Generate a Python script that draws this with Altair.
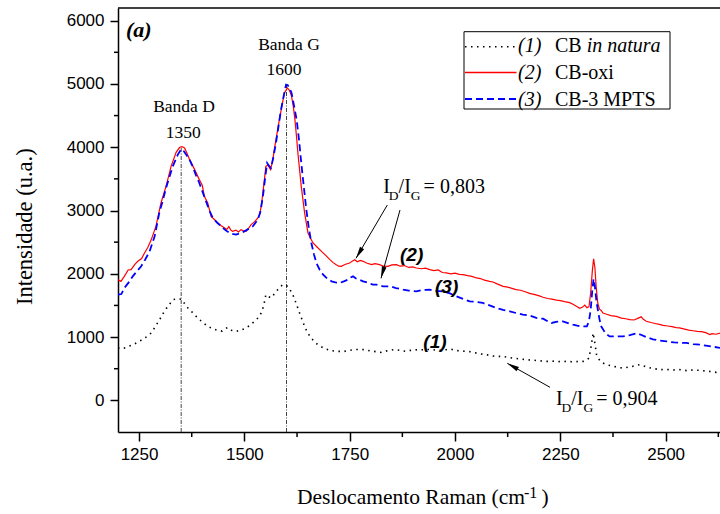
import math
import altair as alt
import pandas as pd

# ---------------- data ----------------
wn_natura = [1200, 1210, 1220, 1236, 1250, 1265, 1279, 1290, 1300, 1310, 1320, 1331, 1338, 1345, 1350,
             1358, 1366, 1378, 1389, 1400, 1413, 1425, 1437, 1447, 1453, 1460, 1467, 1480, 1492, 1504,
             1514, 1524, 1532, 1540, 1546, 1551, 1557, 1563, 1571, 1579, 1585, 1591, 1597, 1603, 1609,
             1615, 1623, 1631, 1640, 1650, 1662, 1674, 1690, 1706, 1720, 1737, 1750, 1761, 1773, 1785,
             1800, 1812, 1824, 1840, 1856, 1870, 1882, 1895, 1910, 1924, 1940, 1955, 1967, 1979, 1990,
             2000, 2015, 2027, 2040, 2055, 2074, 2090, 2105, 2122, 2140, 2155, 2169, 2185, 2200, 2217,
             2235, 2250, 2264, 2280, 2295, 2304, 2312, 2318, 2323, 2328, 2332, 2336, 2339, 2348, 2359,
             2375, 2388, 2399, 2415, 2428, 2438, 2450, 2465, 2486, 2500, 2515, 2533, 2550, 2565, 2581,
             2600, 2610, 2620, 2629]
int_natura = [828, 815, 840, 880, 930, 990, 1065, 1180, 1290, 1407, 1500, 1591, 1602, 1595, 1602,
              1530, 1460, 1380, 1302, 1240, 1170, 1130, 1106, 1095, 1128, 1150, 1110, 1090, 1110, 1144,
              1190, 1249, 1300, 1381, 1500, 1670, 1640, 1618, 1680, 1749, 1790, 1828, 1815, 1802, 1740,
              1670, 1530, 1381, 1220, 1065, 960, 880, 820, 785, 775, 774, 790, 801, 805, 801,
              780, 770, 759, 785, 801, 790, 775, 790, 800, 801, 805, 795, 790, 801, 810,
              790, 780, 774, 765, 740, 722, 700, 695, 686, 665, 655, 643, 635, 625, 616,
              620, 612, 616, 610, 615, 616, 630, 670, 850, 1065, 900, 720, 670, 600, 564,
              540, 520, 511, 530, 545, 564, 540, 510, 485, 490, 480, 485, 470, 480, 474,
              460, 455, 442, 445]

wn_oxi = [1200, 1207, 1215, 1224, 1231, 1240, 1247, 1256, 1263, 1271, 1279, 1290, 1302, 1314, 1326,
          1338, 1346, 1352, 1358, 1364, 1370, 1382, 1393, 1400, 1405, 1413, 1421, 1430, 1437, 1445,
          1453, 1458, 1463, 1468, 1472, 1480, 1486, 1492, 1498, 1504, 1510, 1516, 1524, 1532, 1537,
          1541, 1546, 1551, 1556, 1562, 1567, 1571, 1577, 1583, 1589, 1595, 1602, 1607, 1612, 1616,
          1620, 1624, 1627, 1635, 1643, 1651, 1657, 1663, 1673, 1683, 1693, 1703, 1710, 1718, 1724,
          1730, 1740, 1750, 1756, 1762, 1768, 1775, 1782, 1790, 1802, 1810, 1821, 1830, 1841, 1850,
          1861, 1870, 1880, 1890, 1900, 1908, 1920, 1930, 1940, 1950, 1960, 1970, 1979, 1990, 2000,
          2010, 2019, 2030, 2040, 2051, 2060, 2070, 2082, 2090, 2100, 2114, 2125, 2135, 2145, 2155,
          2165, 2177, 2190, 2200, 2209, 2220, 2230, 2241, 2250, 2260, 2272, 2280, 2290, 2296, 2302,
          2308, 2313, 2318, 2322, 2326, 2329, 2332, 2335, 2339, 2343, 2347, 2351, 2360, 2370, 2383,
          2395, 2405, 2415, 2425, 2435, 2442, 2447, 2454, 2465, 2475, 2485, 2494, 2505, 2515, 2525,
          2533, 2545, 2555, 2565, 2575, 2585, 2595, 2605, 2610, 2620, 2629]
int_oxi = [1907, 1880, 1960, 2060, 2065, 2150, 2197, 2240, 2329, 2420, 2540, 2750, 3119, 3382, 3698,
           3919, 3995, 4010, 3989, 3900, 3804, 3646, 3488, 3400, 3224, 3119, 2908, 2850, 2803, 2760,
           2724, 2700, 2745, 2690, 2671, 2690, 2660, 2698, 2680, 2671, 2720, 2777, 2820, 2882, 2950,
           3119, 3400, 3698, 3720, 3646, 3780, 3962, 4200, 4436, 4650, 4858, 4937, 4900, 4804, 4650,
           4436, 4150, 3910, 3382, 2962, 2645, 2560, 2487, 2420, 2355, 2290, 2223, 2180, 2144, 2120,
           2118, 2150, 2171, 2200, 2223, 2190, 2210, 2197, 2170, 2144, 2160, 2144, 2120, 2118, 2140,
           2144, 2120, 2130, 2100, 2110, 2092, 2080, 2090, 2065, 2050, 2060, 2020, 2013, 2000, 2010,
           1990, 1986, 1970, 1960, 1934, 1925, 1900, 1881, 1870, 1840, 1802, 1790, 1770, 1749, 1740,
           1720, 1690, 1670, 1650, 1630, 1610, 1600, 1585, 1575, 1560, 1545, 1520, 1480, 1455, 1470,
           1505, 1465, 1480, 1700, 2050, 2235, 2100, 1800, 1530, 1440, 1420, 1381, 1360, 1340, 1328,
           1300, 1290, 1275, 1270, 1300, 1320, 1280, 1249, 1230, 1215, 1200, 1185, 1175, 1165, 1150,
           1144, 1125, 1110, 1100, 1090, 1085, 1070, 1040, 1055, 1045, 1062]

wn_mpts = [1200, 1208, 1215, 1225, 1235, 1245, 1255, 1265, 1275, 1287, 1298, 1306, 1314, 1322, 1330,
           1342, 1350, 1356, 1362, 1370, 1377, 1385, 1393, 1401, 1409, 1417, 1425, 1435, 1445, 1455,
           1465, 1472, 1480, 1490, 1500, 1510, 1520, 1532, 1538, 1544, 1549, 1554, 1559, 1563, 1569,
           1575, 1581, 1587, 1593, 1599, 1603, 1608, 1612, 1618, 1624, 1630, 1635, 1641, 1647, 1653,
           1659, 1665, 1671, 1679, 1687, 1697, 1707, 1716, 1726, 1736, 1746, 1752, 1758, 1764, 1770,
           1782, 1792, 1805, 1813, 1829, 1845, 1860, 1877, 1890, 1908, 1920, 1930, 1940, 1955, 1972,
           1988, 2003, 2020, 2035, 2050, 2066, 2082, 2098, 2114, 2130, 2145, 2161, 2177, 2193, 2209,
           2220, 2229, 2240, 2256, 2270, 2280, 2290, 2300, 2313, 2318, 2322, 2326, 2329, 2332, 2336,
           2339, 2343, 2347, 2357, 2367, 2383, 2399, 2415, 2431, 2440, 2454, 2470, 2486, 2502, 2520,
           2549, 2565, 2581, 2600, 2615, 2629]
int_mpts = [1670, 1680, 1776, 1860, 1960, 2040, 2118, 2230, 2355, 2592, 2962, 3150, 3356, 3530, 3698,
            3883, 3970, 3940, 3883, 3800, 3698, 3560, 3435, 3290, 3145, 3000, 2882, 2810, 2750, 2690,
            2645, 2630, 2619, 2640, 2671, 2710, 2750, 2856, 2980, 3224, 3500, 3751, 3700, 3672, 3850,
            4068, 4330, 4594, 4800, 4989, 4980, 4920, 4858, 4650, 4436, 4100, 3751, 3380, 3014, 2720,
            2487, 2310, 2171, 2060, 1986, 1920, 1881, 1865, 1855, 1880, 1907, 1940, 1960, 1930, 1915,
            1881, 1860, 1828, 1828, 1802, 1802, 1775, 1749, 1735, 1723, 1740, 1745, 1749, 1730, 1723,
            1690, 1644, 1600, 1565, 1555, 1539, 1500, 1460, 1430, 1407, 1380, 1354, 1340, 1302, 1290,
            1250, 1223, 1240, 1249, 1215, 1196, 1180, 1170, 1170, 1250, 1433, 1750, 1918, 1800, 1550,
            1433, 1280, 1170, 1060, 1011, 1010, 1010, 1030, 1060, 1040, 1000, 965, 945, 932, 915,
            907, 890, 880, 860, 845, 828]

band_pos = [1350, 1600]
band_top = [4020, 4990]

x_major = [1250, 1500, 1750, 2000, 2250, 2500]
x_minor = [1375, 1625, 1875, 2125, 2375, 2625]
y_major = [0, 1000, 2000, 3000, 4000, 5000, 6000]
y_minor = [500, 1500, 2500, 3500, 4500, 5500]

legend_num = ["(1)", "(2)", "(3)"]
legend_name = ["CB", "CB-oxi", "CB-3 MPTS"]
legend_extra = "in natura"
ratio_top = "0,803"
ratio_bottom = "0,904"

# ---------------- layout ----------------
PL, PT, W, H = 118, 8, 602, 424
SERIF = "Liberation Serif"
SANS = "Liberation Sans"

xs = alt.Scale(domain=[1200, 2629], nice=False, zero=False)
ys = alt.Scale(domain=[-500, 6200], nice=False, zero=False)

axis_common = dict(title="", grid=False, domainColor="black", domainWidth=1.5,
                   tickColor="black", tickWidth=1.5, labelFont=SANS, labelFontSize=17,
                   labelColor="black", labelFlush=False, labelOverlap=False, format="d")
xaxis = alt.Axis(values=x_major, tickSize=9, labelPadding=5, **axis_common)
yaxis = alt.Axis(values=y_major, tickSize=8, labelPadding=6, **axis_common)


def X(f):
    return alt.X(f, type="quantitative", scale=xs, axis=xaxis)


def Y(f):
    return alt.Y(f, type="quantitative", scale=ys, axis=yaxis)


XP = alt.X("x:Q", scale=None, axis=None)
YP = alt.Y("y:Q", scale=None, axis=None)


def P(ax, ay):
    """absolute page pixel -> plot-area pixel"""
    return ax - PL, ay - PT


def texts(rows, font, style="normal", weight="normal", align="left", angle=0):
    return alt.Chart(pd.DataFrame(rows)).mark_text(
        font=font, fontStyle=style, fontWeight=weight, align=align,
        baseline="alphabetic", color="black", angle=angle
    ).encode(x=XP, y=YP, text="t:N", size=alt.Size("s:Q", scale=None, legend=None))


layers = []

# reference dashed lines at band positions
layers.append(alt.Chart(pd.DataFrame({"x": band_pos, "lo": [-500, -500], "hi": band_top}))
              .mark_rule(color="#444444", strokeWidth=1, strokeDash=[4, 1.5, 1, 1.5])
              .encode(x=X("x"), y=Y("lo"), y2="hi"))

# spectra
layers.append(alt.Chart(pd.DataFrame({"wn": wn_natura, "v": int_natura}))
              .mark_line(color="black", strokeWidth=1.6, strokeDash=[1.5, 4.5])
              .encode(x=X("wn"), y=Y("v")))
layers.append(alt.Chart(pd.DataFrame({"wn": wn_oxi, "v": int_oxi}))
              .mark_line(color="#ff0000", strokeWidth=1.2)
              .encode(x=X("wn"), y=Y("v")))
layers.append(alt.Chart(pd.DataFrame({"wn": wn_mpts, "v": int_mpts}))
              .mark_line(color="#0000ff", strokeWidth=1.8, strokeDash=[7, 4])
              .encode(x=X("wn"), y=Y("v")))

# minor ticks
layers.append(alt.Chart(pd.DataFrame({"v": x_minor}))
              .mark_rule(color="black", strokeWidth=1.5)
              .encode(x=X("v"), y=alt.value(H), y2=alt.value(H + 5)))
layers.append(alt.Chart(pd.DataFrame({"v": y_minor}))
              .mark_rule(color="black", strokeWidth=1.5)
              .encode(y=Y("v"), x=alt.value(-4), x2=alt.value(0)))

# top frame line
layers.append(alt.Chart(pd.DataFrame({"d": [0]})).mark_rule(color="black", strokeWidth=1.5)
              .encode(x=alt.value(0), x2=alt.value(W), y=alt.value(0)))

# legend box
bx0, by0 = P(464, 31.7)
bx1, by1 = P(670, 109)
layers.append(alt.Chart(pd.DataFrame([{"x": bx0, "y": by0, "x2": bx1, "y2": by1}]))
              .mark_rect(fill="white", stroke="black", strokeWidth=1)
              .encode(x=XP, y=YP, x2="x2:Q", y2="y2:Q"))

# legend samples
lx0, _ = P(465, 0)
lx1, _ = P(516.5, 0)
row_line_y = [46.7 - PT, 72.5 - PT, 99 - PT]
sample_styles = [dict(color="black", strokeWidth=1.6, strokeDash=[1.5, 4.5]),
                 dict(color="#ff0000", strokeWidth=1.4),
                 dict(color="#0000ff", strokeWidth=1.8, strokeDash=[7, 4])]
for yy, st in zip(row_line_y, sample_styles):
    layers.append(alt.Chart(pd.DataFrame([{"x": lx0, "x2": lx1, "y": yy}]))
                  .mark_rule(**st).encode(x=XP, x2="x2:Q", y=YP))

# legend text
row_base = [52.3, 79, 106]
leg_ital = []
leg_reg = []
for i in range(3):
    x, y = P(518, row_base[i])
    leg_ital.append({"t": legend_num[i], "x": x, "y": y, "s": 20})
    x, y = P(555, row_base[i])
    leg_reg.append({"t": legend_name[i], "x": x, "y": y, "s": 20})
x, y = P(586.7, row_base[0])
leg_ital.append({"t": legend_extra, "x": x, "y": y, "s": 20})

reg_left = list(leg_reg)

# I_D/I_G annotations
for (ax, ay), val in [((383.3, 193.3), ratio_top), ((556, 405), ratio_bottom)]:
    for dx, dy, t, s in [(0, 0, "I", 20), (5.5, 7, "D", 13.5), (15.3, 0, "/I", 20),
                         (27.5, 7, "G", 13.5), (40.3, 0, "= " + val, 20)]:
        x, y = P(ax + dx, ay + dy)
        reg_left.append({"t": t, "x": x, "y": y, "s": s})

# x title pieces
x, y = P(524, 497.5)
reg_left.append({"t": "-1", "x": x, "y": y, "s": 16})
x, y = P(541.5, 504)
reg_left.append({"t": ")", "x": x, "y": y, "s": 21.5})
x, y = P(525, 504)
reg_right = [{"t": "Deslocamento Raman (cm", "x": x, "y": y, "s": 21.5}]

# band labels
reg_center = []
for t, ax, ay in [("Banda G", 289, 50), ("1600", 284, 75), ("Banda D", 184, 111.7), ("1350", 183.3, 138.3)]:
    x, y = P(ax, ay)
    reg_center.append({"t": t, "x": x, "y": y, "s": 17.5})

# curve numbers
bi_sans = []
for t, ax, ay in [("(2)", 400, 261), ("(3)", 435, 292.7), ("(1)", 423.3, 347.7)]:
    x, y = P(ax, ay)
    bi_sans.append({"t": t, "x": x, "y": y, "s": 19})

x, y = P(126, 37)
bi_serif = [{"t": "(a)", "x": x, "y": y, "s": 22}]

x, y = P(31.5, 226.7)
ytitle = [{"t": "Intensidade (u.a.)", "x": x, "y": y, "s": 22.5}]

layers += [
    texts(reg_left, SERIF),
    texts(reg_right, SERIF, align="right"),
    texts(reg_center, SERIF, align="center"),
    texts(leg_ital, SERIF, style="italic"),
    texts(bi_sans, SANS, style="italic", weight="bold"),
    texts(bi_serif, SERIF, style="italic", weight="bold"),
    texts(ytitle, SERIF, align="center", angle=270),
]

# arrows
arrows = [((387.3, 205), (356, 258.3)), ((400, 210), (381, 278.3)), ((550, 387.3), (507.3, 363.3))]
seg_rows, head_rows = [], []
HEAD = 12
for (sx, sy), (tx, ty) in arrows:
    x0, y0 = P(sx, sy)
    x1, y1 = P(tx, ty)
    seg_rows.append({"x": x0, "y": y0, "x2": x1, "y2": y1})
    dx, dy = x1 - x0, y1 - y0
    L = math.hypot(dx, dy)
    ux, uy = dx / L, dy / L
    ang = math.degrees(math.atan2(dx, -dy)) % 360
    head_rows.append({"x": x1 - ux * HEAD / 2, "y": y1 - uy * HEAD / 2, "a": ang})

layers.append(alt.Chart(pd.DataFrame(seg_rows)).mark_rule(color="black", strokeWidth=1)
              .encode(x=XP, y=YP, x2="x2:Q", y2="y2:Q"))
layers.append(alt.Chart(pd.DataFrame(head_rows))
              .mark_point(shape="M0,-1L0.4,1L-0.4,1Z", filled=True, color="black", opacity=1,
                          size=HEAD * HEAD)
              .encode(x=XP, y=YP, angle=alt.Angle("a:Q", scale=None)))

chart = alt.layer(*layers).properties(
    width=W, height=H,
    padding={"left": PL, "top": PT, "right": 0, "bottom": 514 - PT - H},
    autosize=alt.AutoSizeParams(type="none"),
    background="white",
).configure_view(stroke="transparent")

chart.save("out.html", embed_options={"renderer": "svg", "actions": False})
